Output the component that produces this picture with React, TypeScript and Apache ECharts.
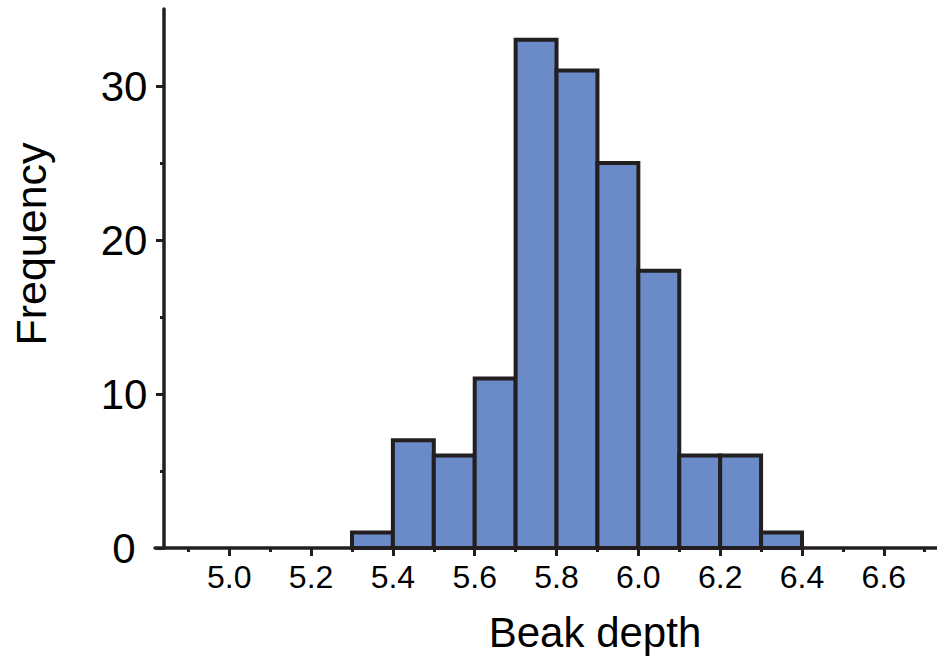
import React, { useEffect, useRef } from "react";
import * as echarts from "echarts";

const binStart = [5.3, 5.4, 5.5, 5.6, 5.7, 5.8, 5.9, 6.0, 6.1, 6.2, 6.3];
const binEnd = [5.4, 5.5, 5.6, 5.7, 5.8, 5.9, 6.0, 6.1, 6.2, 6.3, 6.4];
const counts = [1, 7, 6, 11, 33, 31, 25, 18, 6, 6, 1];
const xMajorTicks = [5.0, 5.2, 5.4, 5.6, 5.8, 6.0, 6.2, 6.4, 6.6];
const xMinorTicks = [4.9, 5.1, 5.3, 5.5, 5.7, 5.9, 6.1, 6.3, 6.5, 6.7];
const yMajorTicks = [0, 10, 20, 30];
const yMinorTicks = [5, 15, 25];

const INK = "#231f20";
const FILL = "#6a8bc7";
const FONT = "'Liberation Sans', Arial, sans-serif";

export default function App() {
  const ref = useRef<HTMLDivElement>(null);
  useEffect(() => {
    if (!ref.current) return;
    const chart = echarts.init(ref.current, undefined, { renderer: "svg" });
    const data = binStart.map((s, i) => [s, binEnd[i], counts[i]]);
    const xBase = { type: "value", min: 4.8185, max: 6.73, splitLine: { show: false } };
    const yBase = { type: "value", min: 0, max: 35, splitLine: { show: false } };
    chart.setOption({
      animation: false,
      backgroundColor: "#ffffff",
      grid: { left: 155, right: 0, top: 9, bottom: 109 },
      xAxis: [
        {
          ...xBase,
          axisLine: { show: true, lineStyle: { color: INK, width: 3.5 } },
          axisTick: { show: true, customValues: xMajorTicks, length: 8, lineStyle: { color: INK, width: 3 } },
          axisLabel: {
            show: true,
            customValues: xMajorTicks,
            formatter: (v: number) => v.toFixed(1),
            color: "#000",
            fontFamily: FONT,
            fontSize: 32,
            margin: 13,
          },
        },
        {
          ...xBase,
          position: "bottom",
          axisLine: { show: false },
          axisTick: { show: true, customValues: xMinorTicks, length: 4, lineStyle: { color: INK, width: 3 } },
          axisLabel: { show: false },
        },
      ],
      yAxis: [
        {
          ...yBase,
          offset: -9,
          axisLine: { show: true, lineStyle: { color: INK, width: 3.5 } },
          axisTick: { show: true, customValues: yMajorTicks, length: 8, lineStyle: { color: INK, width: 3 } },
          axisLabel: {
            show: true,
            customValues: yMajorTicks,
            align: "center",
            margin: 40,
            color: "#000",
            fontFamily: FONT,
            fontSize: 42,
          },
        },
        {
          ...yBase,
          position: "left",
          offset: -9,
          axisLine: { show: false },
          axisTick: { show: true, customValues: yMinorTicks, length: 4, lineStyle: { color: INK, width: 3 } },
          axisLabel: { show: false },
        },
      ],
      graphic: [
        {
          type: "text",
          x: 595,
          y: 632,
          style: {
            text: "Beak depth",
            fontFamily: FONT,
            fontSize: 42,
            fill: "#000",
            align: "center",
            verticalAlign: "middle",
          },
        },
        {
          type: "text",
          x: 31,
          y: 244,
          rotation: Math.PI / 2,
          style: {
            text: "Frequency",
            fontFamily: FONT,
            fontSize: 43,
            fill: "#000",
            align: "center",
            verticalAlign: "middle",
          },
        },
      ],
      series: [
        {
          type: "custom",
          xAxisIndex: 0,
          yAxisIndex: 0,
          data,
          encode: { x: [0, 1], y: 2 },
          renderItem: (params: any, api: any) => {
            const p0 = api.coord([api.value(0), 0]);
            const p1 = api.coord([api.value(1), api.value(2)]);
            return {
              type: "rect",
              shape: { x: p0[0], y: p1[1], width: p1[0] - p0[0], height: p0[1] - p1[1] },
              style: { fill: FILL, stroke: INK, lineWidth: 4 },
            };
          },
        },
      ],
    });
    return () => chart.dispose();
  }, []);
  return <div ref={ref} style={{ position: "fixed", left: 0, top: 0, width: 937, height: 657 }} />;
}
